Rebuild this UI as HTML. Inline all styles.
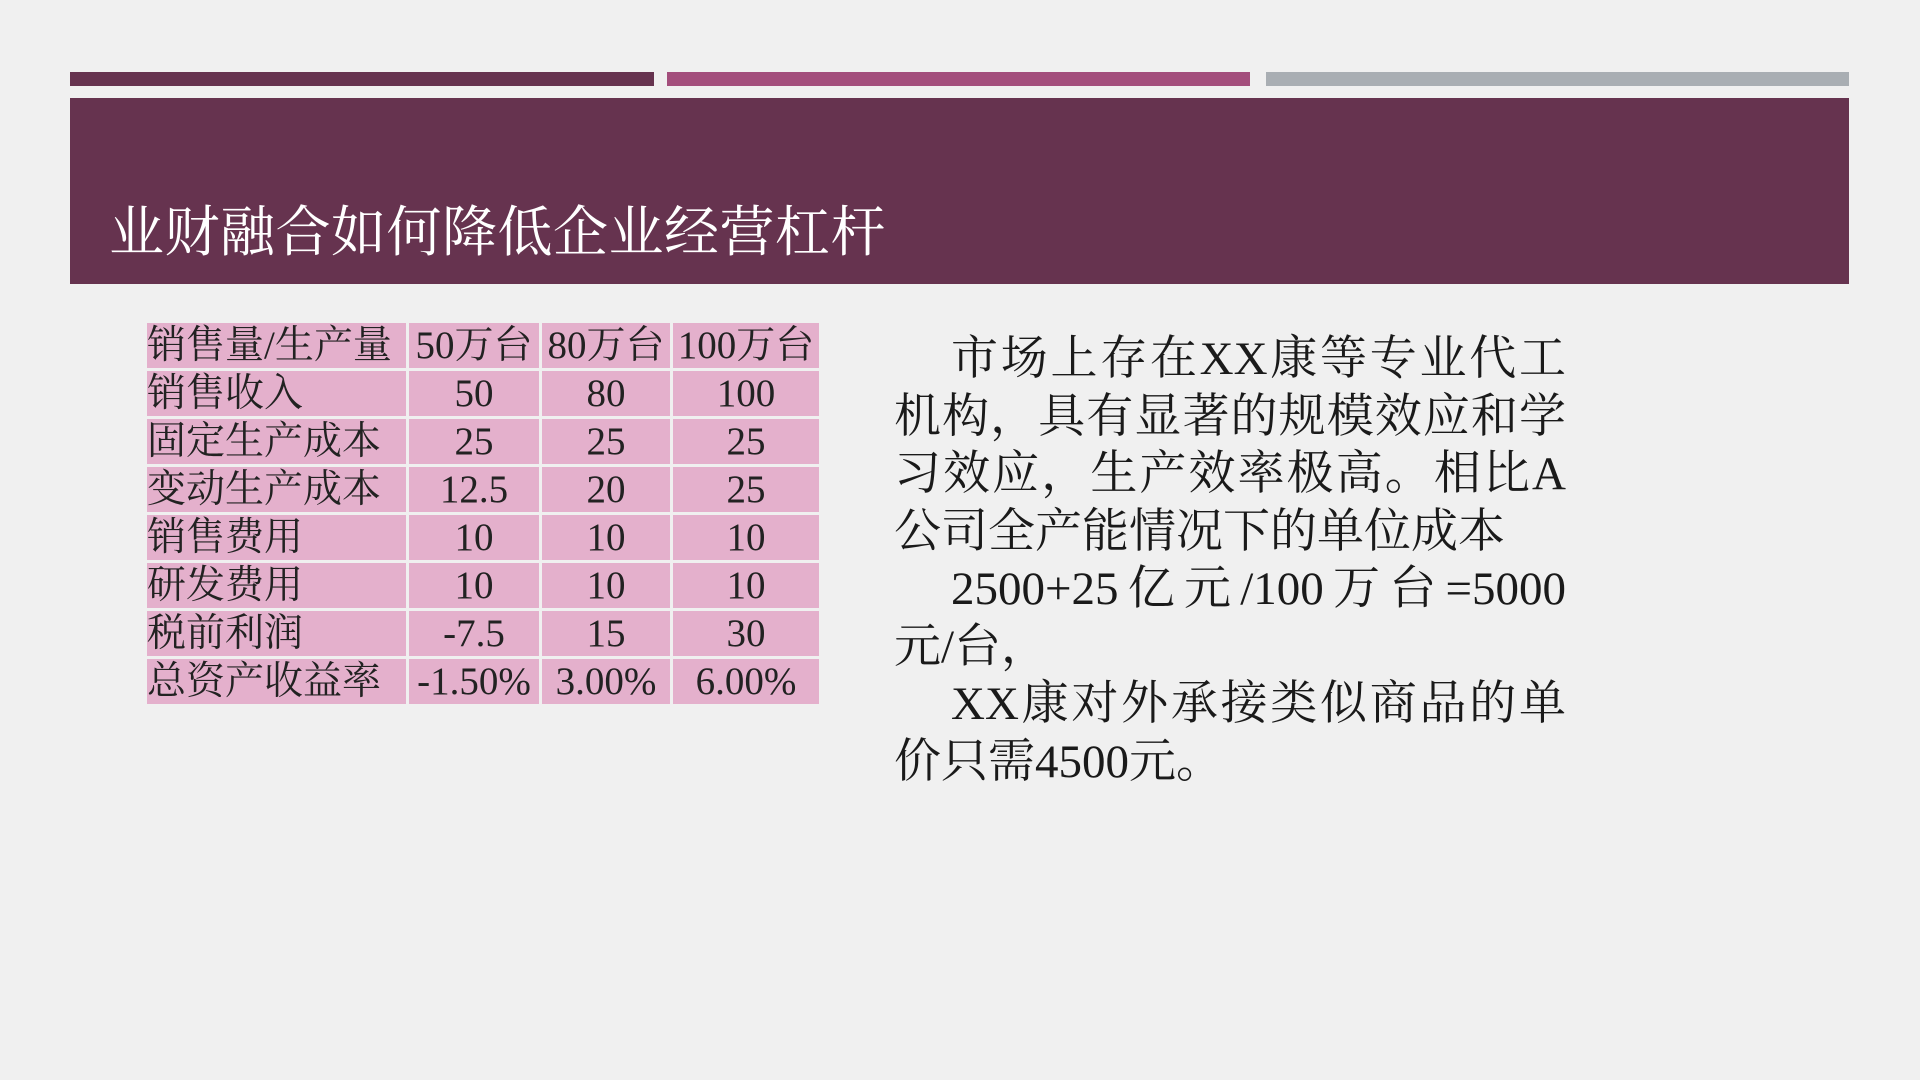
<!DOCTYPE html>
<html><head><meta charset="utf-8"><style>
body{margin:0;width:1920px;height:1080px;background:#f0f0f0;position:relative;overflow:hidden;font-family:"Liberation Serif","Noto Serif CJK SC",serif;}
.bar{position:absolute;top:72px;height:14px;}
#hdr{position:absolute;left:70px;top:98px;width:1779px;height:186px;background:#66334f;}
#title{position:absolute;left:109px;top:193px;color:#fff;font-size:55px;line-height:80px;white-space:nowrap;letter-spacing:0.5px;}
table{position:absolute;left:144px;top:320px;border-collapse:collapse;}
td{background:#e4b0cc;border:3px solid #f0f0f0;height:45px;padding:0;font-size:39px;line-height:45px;color:#222;text-align:center;white-space:nowrap;overflow:hidden;}
td:first-child{text-align:left;width:259px;}
td.c1{width:130px}td.c2{width:128px}td.c3{width:146px}
#txt{position:absolute;left:894px;top:331px;width:672px;font-size:47px;line-height:57.5px;color:#1a1a1a;}
#txt div{white-space:nowrap;}
#txt .j{text-align:justify;text-align-last:justify;}
</style></head><body>
<div class="bar" style="left:70px;width:584px;background:#66334f"></div>
<div class="bar" style="left:667px;width:583px;background:#a34e7c"></div>
<div class="bar" style="left:1266px;width:583px;background:#a9aeb3"></div>
<div id="hdr"></div>
<div id="title">业财融合如何降低企业经营杠杆</div>
<table>
<tr><td>销售量/生产量</td><td class="c1">50万台</td><td class="c2">80万台</td><td class="c3">100万台</td></tr>
<tr><td>销售收入</td><td>50</td><td>80</td><td>100</td></tr>
<tr><td>固定生产成本</td><td>25</td><td>25</td><td>25</td></tr>
<tr><td>变动生产成本</td><td>12.5</td><td>20</td><td>25</td></tr>
<tr><td>销售费用</td><td>10</td><td>10</td><td>10</td></tr>
<tr><td>研发费用</td><td>10</td><td>10</td><td>10</td></tr>
<tr><td>税前利润</td><td>-7.5</td><td>15</td><td>30</td></tr>
<tr><td>总资产收益率</td><td>-1.50%</td><td>3.00%</td><td>6.00%</td></tr>
</table>
<div id="txt">
<div class="j" style="padding-left:57px">市场上存在XX康等专业代工</div>
<div class="j">机构，具有显著的规模效应和学</div>
<div class="j">习效应，生产效率极高。相比A</div>
<div>公司全产能情况下的单位成本</div>
<div class="j" style="padding-left:57px">2500+25亿元/100万台=5000</div>
<div>元/台，</div>
<div class="j" style="padding-left:57px">XX康对外承接类似商品的单</div>
<div>价只需4500元。</div>
</div>
</body></html>
